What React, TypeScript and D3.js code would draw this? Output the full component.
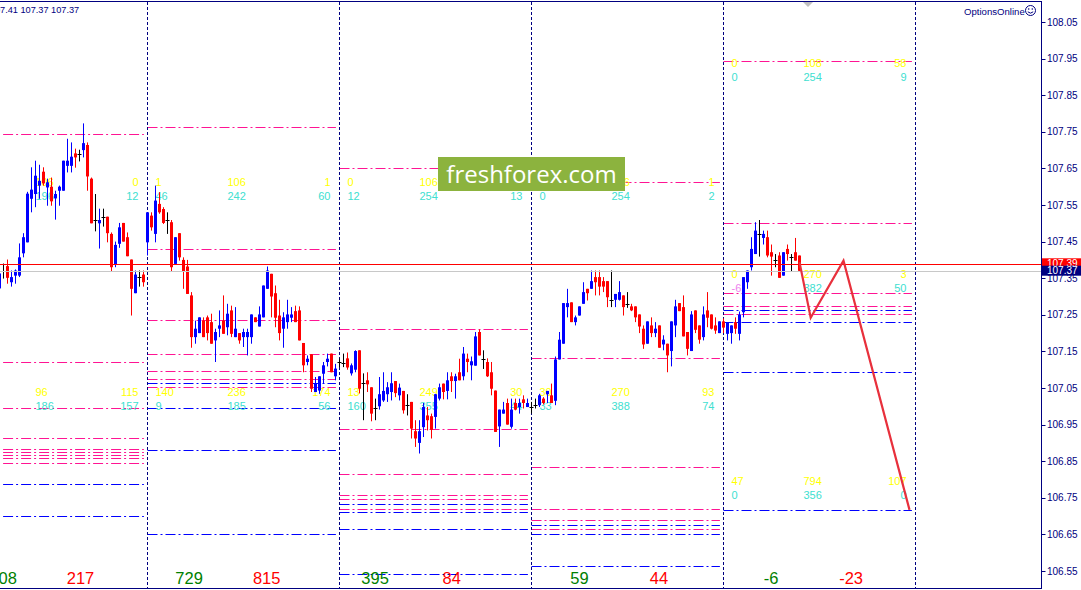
import React, { useEffect } from 'react';
import * as d3 from 'd3';

// ---------- DATA ----------
const tickPrices = [108.05, 107.95, 107.85, 107.75, 107.65, 107.55, 107.45, 107.35, 107.25, 107.15, 107.05, 106.95, 106.85, 106.75, 106.65, 106.55];

const firstBar = -37;
// [open, high, low, close] (M30 bars)
const candles: [number, number, number, number][] = [
  [107.322, 107.371, 107.316, 107.363], [107.369, 107.390, 107.349, 107.369], [107.383, 107.401, 107.335, 107.351], [107.339, 107.371, 107.327, 107.353],
  [107.357, 107.374, 107.335, 107.371], [107.357, 107.445, 107.353, 107.407], [107.418, 107.473, 107.407, 107.462], [107.448, 107.586, 107.448, 107.581],
  [107.567, 107.653, 107.530, 107.592], [107.580, 107.671, 107.544, 107.630], [107.603, 107.660, 107.567, 107.616], [107.641, 107.653, 107.603, 107.609],
  [107.598, 107.622, 107.548, 107.612], [107.600, 107.625, 107.548, 107.560], [107.568, 107.589, 107.510, 107.580], [107.589, 107.603, 107.548, 107.600],
  [107.589, 107.671, 107.589, 107.671], [107.657, 107.731, 107.639, 107.671], [107.657, 107.721, 107.639, 107.682], [107.691, 107.704, 107.652, 107.680],
  [107.689, 107.701, 107.669, 107.689], [107.700, 107.773, 107.680, 107.719], [107.714, 107.721, 107.589, 107.628], [107.622, 107.625, 107.500, 107.500],
  [107.509, 107.580, 107.478, 107.509], [107.500, 107.540, 107.431, 107.509], [107.518, 107.540, 107.491, 107.518], [107.518, 107.518, 107.448, 107.473],
  [107.471, 107.475, 107.369, 107.380], [107.387, 107.450, 107.380, 107.441], [107.444, 107.501, 107.433, 107.489], [107.501, 107.501, 107.450, 107.450],
  [107.462, 107.475, 107.410, 107.410], [107.401, 107.401, 107.248, 107.321], [107.309, 107.371, 107.309, 107.360], [107.353, 107.371, 107.327, 107.353],
  [107.360, 107.371, 107.327, 107.339],
  // day 2 (bar 0)
  [107.448, 107.530, 107.412, 107.530], [107.521, 107.530, 107.480, 107.489], [107.471, 107.603, 107.448, 107.562], [107.553, 107.585, 107.526, 107.530],
  [107.539, 107.544, 107.498, 107.501], [107.509, 107.530, 107.471, 107.509], [107.503, 107.509, 107.369, 107.380], [107.389, 107.462, 107.389, 107.462],
  [107.473, 107.473, 107.398, 107.407], [107.400, 107.407, 107.321, 107.369], [107.382, 107.400, 107.307, 107.307], [107.303, 107.312, 107.160, 107.189],
  [107.189, 107.234, 107.171, 107.212], [107.200, 107.243, 107.200, 107.243], [107.234, 107.243, 107.189, 107.189], [107.243, 107.248, 107.180, 107.200],
  [107.230, 107.253, 107.171, 107.171], [107.180, 107.212, 107.121, 107.203], [107.212, 107.262, 107.189, 107.221], [107.234, 107.303, 107.198, 107.198],
  [107.216, 107.280, 107.194, 107.253], [107.262, 107.275, 107.189, 107.198], [107.189, 107.271, 107.189, 107.212], [107.200, 107.200, 107.171, 107.180],
  [107.189, 107.212, 107.162, 107.203], [107.189, 107.212, 107.139, 107.203], [107.189, 107.251, 107.171, 107.251], [107.243, 107.243, 107.230, 107.230],
  [107.218, 107.273, 107.218, 107.251], [107.243, 107.330, 107.243, 107.330], [107.321, 107.382, 107.321, 107.371], [107.362, 107.362, 107.243, 107.300],
  [107.309, 107.330, 107.216, 107.242], [107.248, 107.291, 107.180, 107.200], [107.212, 107.257, 107.160, 107.243], [107.230, 107.291, 107.212, 107.251],
  [107.242, 107.271, 107.230, 107.251], [107.260, 107.275, 107.230, 107.230], [107.262, 107.273, 107.180, 107.180], [107.173, 107.173, 107.093, 107.112],
  [107.121, 107.139, 107.112, 107.130], [107.142, 107.142, 107.039, 107.048], [107.039, 107.080, 107.039, 107.062], [107.043, 107.082, 107.034, 107.082],
  [107.089, 107.121, 107.062, 107.112], [107.121, 107.144, 107.109, 107.130], [107.144, 107.144, 107.093, 107.093], [107.082, 107.116, 107.071, 107.103],
  // day 3 (bar 48)
  [107.121, 107.131, 107.107, 107.121], [107.118, 107.144, 107.107, 107.118], [107.131, 107.147, 107.100, 107.106], [107.090, 107.117, 107.084, 107.112],
  [107.100, 107.153, 107.093, 107.151], [107.153, 107.153, 107.035, 107.048], [107.063, 107.090, 106.962, 107.063], [107.071, 107.093, 107.039, 107.060],
  [107.052, 107.052, 106.959, 106.980], [106.994, 107.021, 106.962, 106.994], [107.000, 107.080, 106.991, 107.033], [107.016, 107.093, 107.012, 107.042],
  [107.033, 107.066, 107.012, 107.052], [107.039, 107.093, 107.016, 107.063], [107.069, 107.069, 107.025, 107.036], [107.030, 107.062, 107.016, 107.051],
  [107.042, 107.042, 106.980, 106.989], [107.003, 107.033, 106.975, 107.003], [107.012, 107.012, 106.912, 106.939], [106.932, 106.962, 106.889, 106.912],
  [106.900, 106.962, 106.871, 106.932], [106.943, 107.009, 106.916, 106.998], [106.975, 106.998, 106.934, 106.962], [106.973, 106.980, 106.912, 106.936],
  [106.971, 107.034, 106.939, 107.033], [107.021, 107.062, 107.016, 107.052], [107.062, 107.062, 107.019, 107.039], [107.042, 107.093, 107.019, 107.071],
  [107.082, 107.093, 107.039, 107.069], [107.069, 107.089, 107.021, 107.082], [107.093, 107.130, 107.071, 107.071], [107.082, 107.162, 107.071, 107.144],
  [107.130, 107.144, 107.093, 107.121], [107.112, 107.136, 107.071, 107.123], [107.111, 107.203, 107.111, 107.191], [107.203, 107.210, 107.139, 107.139],
  [107.130, 107.153, 107.102, 107.130], [107.121, 107.131, 107.080, 107.082], [107.093, 107.121, 107.030, 107.048], [107.043, 107.043, 106.930, 106.930],
  [106.945, 106.991, 106.889, 106.991], [106.980, 107.012, 106.980, 106.991], [107.009, 107.021, 106.950, 106.950], [106.944, 107.021, 106.939, 106.991],
  [107.009, 107.021, 106.989, 106.991], [106.998, 107.021, 106.980, 107.009], [107.019, 107.030, 106.994, 107.009], [106.998, 107.021, 106.998, 107.009],
  // day 4 (bar 96)
  [106.998, 107.012, 106.980, 106.998], [107.004, 107.021, 106.994, 107.004], [107.003, 107.034, 106.998, 107.030], [107.021, 107.025, 107.005, 107.009],
  [107.033, 107.042, 107.009, 107.042], [107.030, 107.062, 107.009, 107.009], [107.015, 107.136, 107.003, 107.128], [107.128, 107.203, 107.128, 107.182],
  [107.171, 107.282, 107.171, 107.282], [107.271, 107.321, 107.243, 107.282], [107.284, 107.284, 107.230, 107.230], [107.230, 107.248, 107.221, 107.243],
  [107.248, 107.273, 107.248, 107.273], [107.280, 107.339, 107.280, 107.312], [107.321, 107.321, 107.289, 107.309], [107.321, 107.371, 107.321, 107.342],
  [107.353, 107.371, 107.303, 107.339], [107.353, 107.371, 107.303, 107.327], [107.342, 107.353, 107.312, 107.327], [107.342, 107.342, 107.271, 107.298],
  [107.291, 107.371, 107.271, 107.291], [107.291, 107.307, 107.271, 107.307], [107.291, 107.342, 107.289, 107.312], [107.303, 107.303, 107.248, 107.271],
  [107.280, 107.312, 107.269, 107.280], [107.273, 107.280, 107.260, 107.262], [107.273, 107.273, 107.230, 107.243], [107.251, 107.251, 107.200, 107.218],
  [107.212, 107.221, 107.157, 107.169], [107.171, 107.232, 107.171, 107.232], [107.221, 107.243, 107.189, 107.200], [107.200, 107.230, 107.189, 107.212],
  [107.221, 107.221, 107.160, 107.160], [107.169, 107.194, 107.153, 107.182], [107.171, 107.171, 107.093, 107.139], [107.151, 107.232, 107.109, 107.232],
  [107.221, 107.291, 107.189, 107.273], [107.282, 107.282, 107.260, 107.260], [107.271, 107.303, 107.191, 107.191], [107.203, 107.203, 107.139, 107.157],
  [107.151, 107.260, 107.151, 107.251], [107.262, 107.262, 107.200, 107.209], [107.221, 107.221, 107.171, 107.182], [107.189, 107.273, 107.180, 107.251],
  [107.262, 107.312, 107.216, 107.242], [107.251, 107.251, 107.210, 107.212], [107.221, 107.243, 107.198, 107.207], [107.200, 107.232, 107.200, 107.232],
  // day 5 (bar 144)
  [107.232, 107.240, 107.200, 107.215], [107.198, 107.230, 107.180, 107.230], [107.200, 107.221, 107.171, 107.221], [107.230, 107.243, 107.198, 107.212],
  [107.198, 107.259, 107.180, 107.251], [107.257, 107.353, 107.243, 107.353], [107.339, 107.371, 107.321, 107.371], [107.380, 107.462, 107.371, 107.430],
  [107.416, 107.503, 107.416, 107.480], [107.471, 107.509, 107.409, 107.471], [107.460, 107.480, 107.442, 107.471], [107.462, 107.480, 107.407, 107.412],
  [107.421, 107.442, 107.357, 107.409], [107.400, 107.416, 107.380, 107.400], [107.412, 107.421, 107.351, 107.351], [107.357, 107.421, 107.357, 107.421],
  [107.430, 107.442, 107.398, 107.416], [107.409, 107.416, 107.369, 107.409], [107.421, 107.460, 107.398, 107.398], [107.412, 107.412, 107.370, 107.370],
];

// day segments (start bar of each day); first one is partially visible
const segStartBars = [-48, 0, 48, 96, 144];
const segLineStartBars = [-36.1, 0, 48, 96, 144];

// level lines per day: [price, kind] kind 'r' = pink, 'b' = blue
const levelsDay0: [number, string][] = [[107.744, 'r'], [107.122, 'r'], [106.996, 'r'], [106.914, 'r'], [106.882, 'r'], [106.875, 'r'], [106.867, 'r'], [106.858, 'r'], [106.846, 'r'], [106.789, 'b'], [106.699, 'b']];
const levelsDay1: [number, string][] = [[107.764, 'r'], [107.430, 'r'], [107.235, 'r'], [107.143, 'r'], [107.097, 'r'], [107.075, 'r'], [107.064, 'b'], [107.053, 'r'], [106.996, 'b'], [106.880, 'b'], [106.652, 'b']];
const levelsDay2: [number, string][] = [[107.652, 'r'], [107.210, 'r'], [106.939, 'r'], [106.814, 'r'], [106.757, 'r'], [106.746, 'r'], [106.734, 'b'], [106.720, 'r'], [106.710, 'b'], [106.666, 'b'], [106.541, 'b']];
const levelsDay3: [number, string][] = [[107.614, 'r'], [107.132, 'r'], [106.835, 'r'], [106.720, 'r'], [106.689, 'r'], [106.677, 'b'], [106.666, 'r'], [106.652, 'b'], [106.563, 'b']];
const levelsDay4: [number, string][] = [[107.943, 'r'], [107.502, 'r'], [107.310, 'r'], [107.274, 'r'], [107.263, 'b'], [107.252, 'r'], [107.231, 'b'], [107.094, 'b'], [106.717, 'b']];
const levelsByDay = [levelsDay0, levelsDay1, levelsDay2, levelsDay3, levelsDay4];

// label rows per day: price of upper row, then [left, mid, right] pairs [upper, lower]
type Row = { price: number; left: [string, string]; mid: [string, string]; right: [string, string] };
const labelsDay0: Row[] = [
  { price: 107.613, left: ['', ''], mid: ['106', '196'], right: ['0', '12'] },
  { price: 107.038, left: ['', ''], mid: ['96', '186'], right: ['115', '157'] },
];
const labelsDay1: Row[] = [
  { price: 107.613, left: ['1', '46'], mid: ['106', '242'], right: ['1', '60'] },
  { price: 107.038, left: ['140', '9'], mid: ['236', '185'], right: ['174', '56'] },
];
const labelsDay2: Row[] = [
  { price: 107.613, left: ['0', '12'], mid: ['106', '254'], right: ['1', '13'] },
  { price: 107.038, left: ['13', '160'], mid: ['249', '355'], right: ['30', '44'] },
];
const labelsDay3: Row[] = [
  { price: 107.613, left: ['0', '0'], mid: ['106', '254'], right: ['1', '2'] },
  { price: 107.038, left: ['30', '33'], mid: ['270', '388'], right: ['93', '74'] },
];
const labelsDay4: Row[] = [
  { price: 107.937, left: ['0', '0'], mid: ['108', '254'], right: ['58', '9'] },
  { price: 107.361, left: ['0', '-6'], mid: ['270', '382'], right: ['3', '50'] },
  { price: 106.796, left: ['47', '0'], mid: ['794', '356'], right: ['107', '0'] },
];
const labelsByDay = [labelsDay0, labelsDay1, labelsDay2, labelsDay3, labelsDay4];

const dayBullTotals = ['108', '729', '395', '59', '-6'];
const dayBearTotals = ['217', '815', '84', '44', '-23'];

const forecastBars = [163, 165.8, 174, 190.5];
const forecastPrices = [107.394, 107.242, 107.398, 106.717];

const askPrice = 107.39;
const bidPrice = 107.37;
const headerText = '107.41 107.37 107.37';

// layout helpers (bar offsets of the bottom totals within each day)
const totalsBarOffsets: [number, number][] = [[11.9, 31.25], [10.4, 29.8], [8.9, 28.05], [12, 31.85], [11.9, 31.9]];

// ---------- STYLE ----------
const NAVY = '#000080';
const PINK = '#FF1493';
const BLUE = '#0000FF';
const BULL = '#0000FF';
const BEAR = '#FF0000';
const YEL = '#FFFF00';
const CYAN = '#40E0D0';
const VIOLET = '#EE82EE';
const FONT = "'Liberation Sans', Arial, sans-serif";

export default function App() {
  useEffect(() => {
    document.body.style.margin = '0';
  }, []);

  const W = 1081, H = 590;
  const plotRight = 1041.5;
  const y = d3.scaleLinear().domain([106.55, 108.05]).range([571, 22]);
  const x = d3.scaleLinear().domain([0, 1]).range([147.5, 151.5]);
  const py = (p: number) => Math.round(y(p)) + 0.5;

  const zig = d3.line<number>()
    .x((_, i) => x(forecastBars[i]))
    .y((p) => y(p))(forecastPrices);

  return (
    <svg width={W} height={H} style={{ position: 'absolute', left: 0, top: 0, background: '#fff' }} fontFamily={FONT}>
      <rect x={0} y={0} width={W} height={H} fill="#fff" />

      {/* level lines */}
      {levelsByDay.map((lv, d) => (
        <g key={'lv' + d}>
          {lv.map(([p, kind], i) => (
            <line key={i} x1={x(segLineStartBars[d])} x2={x(segStartBars[d] + 47.1)} y1={py(p)} y2={py(p)}
              stroke={kind === 'r' ? PINK : BLUE} strokeWidth={1} strokeDasharray="10,3,2,3" />
          ))}
        </g>
      ))}

      {/* labels */}
      {labelsByDay.map((rows, d) => {
        const s = segStartBars[d];
        return (
          <g key={'lb' + d} fontSize={11}>
            {rows.map((r, i) => {
              const yy = y(r.price);
              const cells: [string, string, number, string][] = [
                [r.left[0], r.left[1], x(s + 2), 'start'],
                [r.mid[0], r.mid[1], x(s + 20), 'start'],
                [r.right[0], r.right[1], x(s + 45.75), 'end'],
              ];
              return cells.map(([a, b, xx, anchor], j) => (
                <g key={i + '-' + j}>
                  <text x={xx} y={yy + 4} fill={YEL} textAnchor={anchor as any}>{a}</text>
                  <text x={xx} y={yy + 18} fill={b.startsWith('-') ? VIOLET : CYAN} textAnchor={anchor as any}>{b}</text>
                </g>
              ));
            })}
          </g>
        );
      })}

      {/* day separators */}
      {segStartBars.slice(1).concat([192]).map((b) => (
        <line key={'sep' + b} x1={x(b)} x2={x(b)} y1={2} y2={588} stroke={NAVY} strokeWidth={1} strokeDasharray="3,2" />
      ))}

      {/* candles */}
      {candles.map(([o, h, l, c], i) => {
        const cx = x(firstBar + i);
        if (o === c) {
          return (
            <g key={'c' + i} stroke="#000" strokeWidth={1}>
              <line x1={cx} x2={cx} y1={y(h)} y2={y(l)} />
              <line x1={cx - 2} x2={cx + 2} y1={py(o)} y2={py(o)} />
            </g>
          );
        }
        const col = c > o ? BULL : BEAR;
        const top = Math.min(y(o), y(c));
        const bot = Math.max(y(o), y(c));
        return (
          <g key={'c' + i}>
            <line x1={cx} x2={cx} y1={y(h)} y2={y(l)} stroke={col} strokeWidth={1} />
            <rect x={cx - 1.5} y={top} width={3} height={Math.max(1, bot - top)} fill={col} />
          </g>
        );
      })}

      {/* bid / ask lines */}
      <line x1={0} x2={plotRight} y1={py(bidPrice)} y2={py(bidPrice)} stroke="#C8C8C8" strokeWidth={1} />
      <line x1={0} x2={plotRight} y1={py(askPrice)} y2={py(askPrice)} stroke="#FF0000" strokeWidth={1} />

      {/* forecast zigzag */}
      <path d={zig || ''} fill="none" stroke="#E8303C" strokeWidth={2.2} strokeLinejoin="miter" />

      {/* bottom totals */}
      {segStartBars.map((s, d) => (
        <g key={'tot' + d} fontSize={16.5} textAnchor="middle">
          <text x={x(s + totalsBarOffsets[d][0])} y={584} fill="#008000">{dayBullTotals[d]}</text>
          <text x={x(s + totalsBarOffsets[d][1])} y={584} fill="#FF0000">{dayBearTotals[d]}</text>
        </g>
      ))}

      {/* logo */}
      <rect x={438} y={157} width={187} height={34} fill="#8CB33E" />
      <text x={531.5} y={183} fill="#FFFFFF" fontSize={24} textAnchor="middle" fontFamily="'Open Sans', sans-serif">freshforex.com</text>

      {/* frame */}
      <line x1={0} x2={plotRight} y1={1.5} y2={1.5} stroke={NAVY} strokeWidth={1} />
      <line x1={0} x2={plotRight} y1={588.5} y2={588.5} stroke={NAVY} strokeWidth={1} />
      <line x1={plotRight} x2={plotRight} y1={1} y2={589} stroke={NAVY} strokeWidth={1} />

      {/* shift marker */}
      <polygon points="803,2 813,2 808,7" fill="#C0C0C0" />

      {/* price axis */}
      {tickPrices.map((p) => (
        <g key={'t' + p}>
          <line x1={plotRight} x2={plotRight + 4} y1={py(p)} y2={py(p)} stroke={NAVY} />
          <text x={1047} y={y(p) + 3.6} fontSize={10} fill={NAVY}>{p.toFixed(2)}</text>
        </g>
      ))}
      <rect x={1042} y={258.3} width={39} height={8} fill="#FF0000" />
      <text x={1047} y={266.8} fontSize={10} fill="#fff">{askPrice.toFixed(2)}</text>
      <rect x={1042} y={265.7} width={39} height={10} fill={NAVY} />
      <text x={1047} y={274.4} fontSize={10} fill="#fff">{bidPrice.toFixed(2)}</text>

      {/* header (its start is cut off by the window edge, as in the terminal) */}
      <text x={-10.2} y={12.6} fontSize={9.2} fill={NAVY}>{headerText}</text>

      {/* OptionsOnline mark */}
      <text x={964} y={14.5} fontSize={9.6} fill={NAVY}>OptionsOnline</text>
      <g stroke={NAVY} fill="none" strokeWidth={1}>
        <circle cx={1030.5} cy={10.5} r={5} />
        <path d="M1027.8,11.8 Q1030.5,14.5 1033.2,11.8" />
      </g>
      <circle cx={1028.7} cy={9} r={0.8} fill={NAVY} />
      <circle cx={1032.3} cy={9} r={0.8} fill={NAVY} />
    </svg>
  );
}
